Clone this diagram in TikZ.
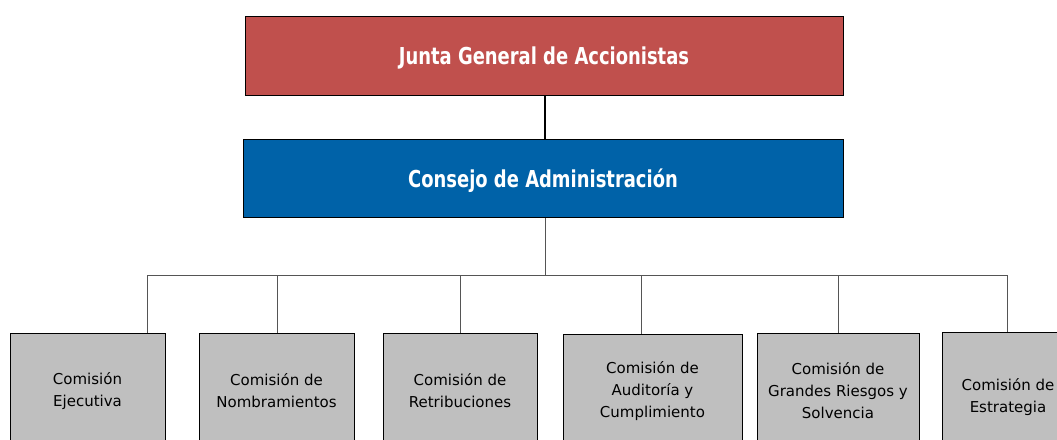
\documentclass[tikz,border=0pt]{standalone}
\usepackage{fontspec}
\setmainfont{DejaVu Sans}
\newfontfamily\headfont[FakeStretch=0.77]{DejaVu Sans}
\definecolor{juntared}{HTML}{C0504D}
\definecolor{consejoblue}{HTML}{0062A8}
\definecolor{comgray}{HTML}{BFBFBF}
\definecolor{linegray}{HTML}{555555}
\begin{document}
\begin{tikzpicture}[x=1pt,y=-1pt,
  topbox/.style={draw=black, line width=1pt, inner sep=0pt, text=white,
    text height=17pt, text depth=0pt,
    font=\headfont\fontsize{23.3}{26}\selectfont\bfseries},
  combox/.style={draw=black, line width=1pt, fill=comgray, inner sep=0pt,
    minimum height=117pt, anchor=north},
  comtext/.style={align=center, inner sep=0pt, font=\fontsize{15}{22}\selectfont},
  mainlink/.style={draw=black, line width=1.3pt},
  sublink/.style={draw=linegray, line width=0.8pt}]
\useasboundingbox (0,0) rectangle (1057,439);
% top boxes
\node[topbox, fill=juntared, minimum width=598pt, minimum height=79pt] (junta) at (544,56) {Junta General de Accionistas};
\node[topbox, fill=consejoblue, minimum width=600pt, minimum height=78pt] (consejo) at (543,178.5) {Consejo de Administración};
% bottom boxes
\node[combox, minimum width=155pt] (c1) at (87.5,333) {};
\node[combox, minimum width=155pt] (c2) at (276.5,333) {};
\node[combox, minimum width=154pt] (c3) at (460,333) {};
\node[combox, minimum width=179pt] (c4) at (652.5,334) {};
\node[combox, minimum width=162pt] (c5) at (838,333) {};
\node[combox, minimum width=130pt, minimum height=125pt] (c6) at (1007,332) {};
% texts
\node[comtext] (t1) at (87.5,391) {Comisión\\Ejecutiva};
\node[comtext] (t2) at (276.5,391) {Comisión de\\Nombramientos};
\node[comtext] (t3) at (460,391) {Comisión de\\Retribuciones};
\node[comtext] (t4) at (652.5,391) {Comisión de\\Auditoría y\\Cumplimiento};
\node[comtext] (t5) at (838,391) {Comisión de\\Grandes Riesgos y\\Solvencia};
\node[comtext] (t6) at (1008,397) {Comisión de\\Estrategia};
% connectors
\coordinate (hub) at (545,275);
\coordinate (h1) at (147,275);
\coordinate (h2) at (277,275);
\coordinate (h3) at (460,275);
\coordinate (h4) at (641,275);
\coordinate (h5) at (838,275);
\coordinate (h6) at (1007,275);
\draw[mainlink] (junta.south -| hub) -- (consejo.north -| hub);
\draw[sublink] (consejo.south -| hub) -- (hub);
\draw[sublink] (h1) -- (h6);
\draw[sublink] (h1) -- (h1 |- c1.north);
\draw[sublink] (h2) -- (h2 |- c2.north);
\draw[sublink] (h3) -- (h3 |- c3.north);
\draw[sublink] (h4) -- (h4 |- c4.north);
\draw[sublink] (h5) -- (h5 |- c5.north);
\draw[sublink] (h6) -- (h6 |- c6.north);
\end{tikzpicture}
\end{document}
